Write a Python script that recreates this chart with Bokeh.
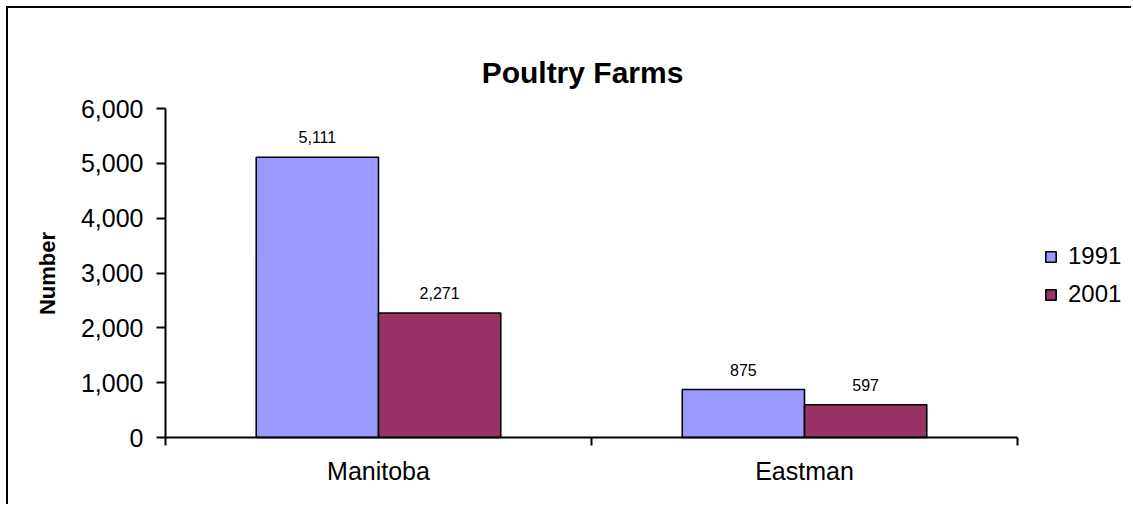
import math
from bokeh.plotting import figure
from bokeh.models import (ColumnDataSource, Range1d, LinearAxis, Label,
                          FixedTicker, NumeralTickFormatter, Legend, LegendItem, LabelSet)
from bokeh.core.properties import value
from bokeh.transform import dodge
from bokeh.embed import file_html
from bokeh.resources import INLINE

# ---- data ----
regions = ["Manitoba", "Eastman"]
years = ["1991", "2001"]
farms_1991 = [5111, 875]
farms_2001 = [2271, 597]
y_ticks = [0, 1000, 2000, 3000, 4000, 5000, 6000]
title_text = "Poultry Farms"
y_label = "Number"

FONT = "Liberation Sans"
C1991 = "#9999FF"
C2001 = "#993366"

# ---- layout (page pixels) ----
Y_MAX = 6000
AX_L, AX_R = 165, 1017      # x-axis extent
AX_T, AX_B = 108, 437       # 6000 and 0
W, H = 1125, 498            # canvas, placed at page (8, 8)
FL, FT = 8, 8
FR, FB = FL + W, FT + H
n = len(regions)
px_x = (AX_R - AX_L) / n
px_y = (AX_B - AX_T) / Y_MAX
x_range = Range1d(-(AX_L - FL) / px_x, (FR - AX_L) / px_x)
y_range = Range1d(-(FB - AX_B) / px_y, (AX_B - FT) / px_y)

centers = [i + 0.5 for i in range(n)]
src = ColumnDataSource(dict(
    x=centers,
    v1991=farms_1991,
    v2001=farms_2001,
    t1991=[f"{v:,}" for v in farms_1991],
    t2001=[f"{v:,}" for v in farms_2001],
))

p = figure(x_range=x_range, y_range=y_range,
           width=W, height=H, output_backend="svg", toolbar_location=None,
           x_axis_location=None, y_axis_location=None,
           min_border_left=0, min_border_right=0, min_border_top=0, min_border_bottom=0)
p.styles = {"border-top": "2px solid black", "border-left": "2px solid black",
            "margin-left": "6px", "margin-top": "6px"}
p.outline_line_alpha = 0
p.grid.visible = False
p.background_fill_color = "white"
p.border_fill_color = "white"

half = 0.1435
bw = 0.287
r1 = p.vbar(x=dodge("x", -half), top="v1991", width=bw, source=src,
            fill_color=C1991, line_color="black", line_width=1.6)
r2 = p.vbar(x=dodge("x", half), top="v2001", width=bw, source=src,
            fill_color=C2001, line_color="black", line_width=1.6)

for fld, txt, off in (("v1991", "t1991", -half), ("v2001", "t2001", half)):
    ls = LabelSet(x=dodge("x", off), y=fld, text=txt, source=src,
                  text_align="center", text_baseline="alphabetic", y_offset=14,
                  text_font=value(FONT), text_font_size="16px", text_color="black")
    p.add_layout(ls)

# y axis at x = 0
yax = LinearAxis(ticker=FixedTicker(ticks=y_ticks), formatter=NumeralTickFormatter(format="0,0"),
                 bounds=(0, Y_MAX), fixed_location=0,
                 major_label_text_font=FONT, major_label_text_font_size="25px",
                 major_label_text_color="black",
                 major_label_standoff=13, major_tick_in=0, major_tick_out=9,
                 minor_tick_line_alpha=0, axis_line_width=2, major_tick_line_width=2)
p.add_layout(yax, "left")

# x axis at y = 0: ticks at category boundaries
xtick = LinearAxis(ticker=FixedTicker(ticks=list(range(n + 1))), bounds=(0, n), fixed_location=0,
                   major_label_overrides={i: "" for i in range(n + 1)},
                   major_label_text_font_size="1px", major_label_standoff=0,
                   major_tick_in=0, major_tick_out=8, minor_tick_line_alpha=0,
                   axis_line_width=2, major_tick_line_width=2)
p.add_layout(xtick, "below")

# category names at centres
xcat = LinearAxis(ticker=FixedTicker(ticks=centers), fixed_location=0,
                  major_label_overrides={c: r for c, r in zip(centers, regions)},
                  axis_line_alpha=0, major_tick_line_alpha=0, minor_tick_line_alpha=0,
                  major_tick_in=0, major_tick_out=0,
                  major_label_text_font=FONT, major_label_text_font_size="25px",
                  major_label_text_color="black",
                  major_label_standoff=19)
p.add_layout(xcat, "below")

legend = Legend(items=[LegendItem(label=years[0], renderers=[r1]),
                       LegendItem(label=years[1], renderers=[r2])],
                location=(1044 - FL, FB - 308), padding=0, margin=0, spacing=10,
                glyph_width=13, glyph_height=13, label_standoff=11,
                label_text_font=FONT, label_text_font_size="24px",
                label_text_color="black",
                border_line_alpha=0, background_fill_alpha=0)
p.add_layout(legend)

title = Label(x=582 - FL, y=FB - 72, x_units="screen", y_units="screen", text=title_text,
              text_font=FONT, text_font_style="bold", text_font_size="30px", text_color="black",
              text_align="center", text_baseline="middle")
p.add_layout(title)

ylab = Label(x=47 - FL, y=FB - 273, x_units="screen", y_units="screen", text=y_label,
             angle=math.pi / 2, text_font=FONT, text_font_style="bold", text_font_size="22px",
             text_color="black", text_align="center", text_baseline="middle")
p.add_layout(ylab)

open("out.html", "w").write(file_html(p, INLINE))
